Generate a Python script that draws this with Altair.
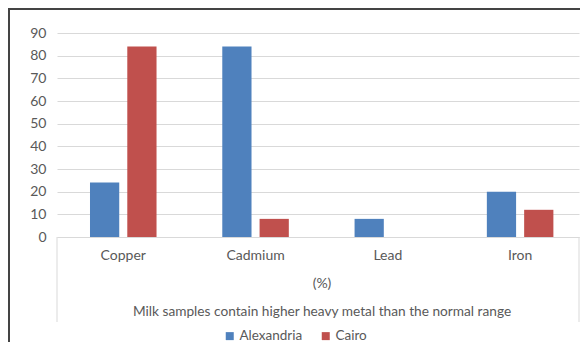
import altair as alt
import pandas as pd

# ---- data ----
categories = ["Copper", "Cadmium", "Lead", "Iron"]
series = ["Alexandria", "Cairo"]
alexandria = [24, 84, 8, 20]
cairo = [84, 8, 0, 12]
y_ticks = [0, 10, 20, 30, 40, 50, 60, 70, 80, 90]
unit_label = ["(%)"]
x_title = ["Milk samples contain higher heavy metal than the normal range"]
colors = ["#4F81BD", "#C0504D"]

rows = []
for i, c in enumerate(categories):
    rows.append({"metal": c, "city": series[0], "value": alexandria[i]})
    rows.append({"metal": c, "city": series[1], "value": cairo[i]})
df = pd.DataFrame(rows)

W, H = 522, 204
FONT = "Lato"
FS = 14
GREY = "#595959"
LIGHT = "#D9D9D9"

bars = alt.Chart(df).mark_bar().encode(
    x=alt.X(
        "metal:N", sort=categories,
        scale=alt.Scale(paddingInner=0.497, paddingOuter=0.2215, align=0.563),
        axis=alt.Axis(title=None, labelAngle=0, labelPadding=11, labelFontSize=FS,
                      labelColor=GREY, labelFont=FONT, domainColor=LIGHT, ticks=False,
                      grid=False),
    ),
    xOffset=alt.XOffset("city:N", sort=series,
                        scale=alt.Scale(paddingInner=0.216, paddingOuter=0)),
    y=alt.Y(
        "value:Q",
        scale=alt.Scale(domain=[0, 90], nice=False),
        axis=alt.Axis(values=y_ticks, title=None, domain=False, ticks=False,
                      labelPadding=11, labelFontSize=FS, labelColor=GREY, labelFont=FONT,
                      gridColor=LIGHT, gridWidth=1),
    ),
    color=alt.Color(
        "city:N", sort=series,
        scale=alt.Scale(domain=series, range=colors),
        legend=alt.Legend(title=None, orient="none", legendX=166, legendY=296,
                          direction="horizontal", symbolType="square", symbolSize=64,
                          symbolStrokeWidth=0, labelFontSize=13.5, labelColor=GREY,
                          labelFont=FONT, columnPadding=16, labelOffset=3),
    ),
)

dummy = pd.DataFrame({"d": [0]})

unit = alt.Chart(pd.DataFrame({"t": unit_label})).mark_text(
    font=FONT, fontSize=FS, color=GREY, baseline="middle", align="center"
).encode(text="t:N", x=alt.value(265), y=alt.value(251))

title = alt.Chart(pd.DataFrame({"t": x_title})).mark_text(
    font=FONT, fontSize=13.7, color=GREY, baseline="middle", align="center"
).encode(text="t:N", x=alt.value(265), y=alt.value(279))

left_tab = alt.Chart(dummy).mark_rule(color=LIGHT, strokeWidth=1).encode(
    x=alt.value(0), y=alt.value(H), y2=alt.value(289))
right_tab = alt.Chart(dummy).mark_rule(color=LIGHT, strokeWidth=1).encode(
    x=alt.value(W), y=alt.value(H), y2=alt.value(289))

frame_top = alt.Chart(dummy).mark_rule(color="#444444", strokeWidth=2).encode(
    x=alt.value(-49), x2=alt.value(W + 3), y=alt.value(-24))
frame_left = alt.Chart(dummy).mark_rule(color="#444444", strokeWidth=2).encode(
    x=alt.value(-48), y=alt.value(-25), y2=alt.value(330))

chart = alt.layer(bars, unit, title, left_tab, right_tab, frame_top, frame_left).properties(
    width=W, height=H,
    autosize=alt.AutoSizeParams(type="none"),
    padding={"left": 49, "top": 25, "right": 1, "bottom": 105},
).configure_view(stroke=None)

chart.save("out.html", embed_options={"renderer": "svg", "actions": False})
